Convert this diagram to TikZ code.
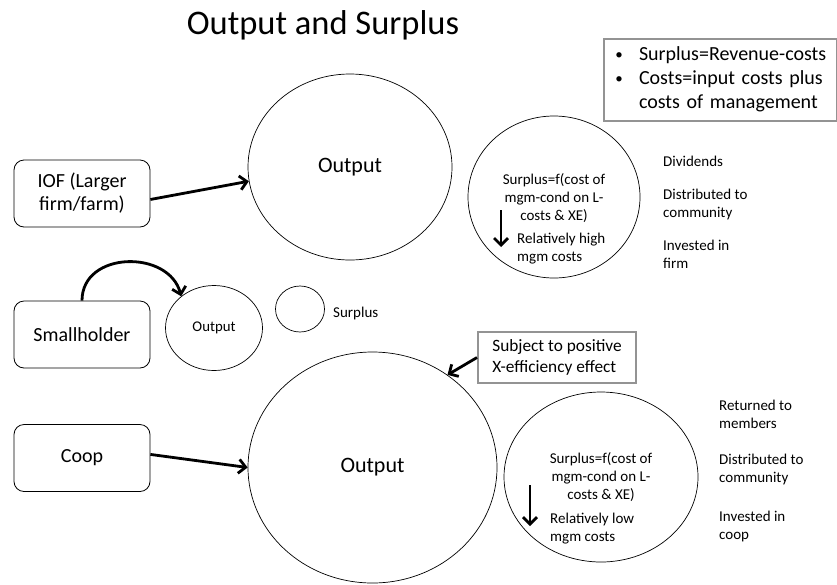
\documentclass[tikz,border=0pt]{standalone}
\usepackage{fontspec}
\setmainfont{Carlito}
\usetikzlibrary{shapes.geometric,arrows.meta,positioning}

\newcommand{\dotmark}{\makebox[10pt]{\fontsize{15}{15}\selectfont\raisebox{1pt}{\textbullet}}}

\tikzset{
  blk/.style={draw, rounded corners=10pt, line width=0.8pt, minimum width=136pt,
    minimum height=67pt, align=center, font=\fontsize{20}{23}\selectfont},
  ring/.style={draw, ellipse, line width=0.7pt, inner sep=0pt},
  note/.style={draw=gray!85, line width=2pt, inner sep=0pt},
  lbl/.style={inner sep=0pt, align=left, font=\fontsize{15}{18}\selectfont},
  flow/.style={line width=2.8pt, -{Straight Barb[length=7pt,width=14pt]}},
}

\begin{document}
\begin{tikzpicture}[x=1pt,y=-1pt]
\useasboundingbox (0,0) rectangle (837,584);

\node[anchor=base, font=\fontsize{34.5}{40}\selectfont] (title) at (323,34) {Output and Surplus};

\node[note, anchor=north west, text width=233pt, minimum height=82pt, align=left,
  font=\fontsize{20}{24}\selectfont] (defs) at (603,38)
  {\begin{tabular}{@{\hspace{10pt}}l@{\hspace{15pt}}l@{}}
   \dotmark & Surplus=Revenue-costs\\
   \dotmark & Costs=input costs plus\\
            & costs of management
   \end{tabular}};

% left-hand boxes
\node[blk] (iof) at (82,193.5) {IOF (Larger\\firm/farm)};
\node[blk] (small) at (82,334.5) {Smallholder};
\node[blk] (coop) at (82,458) {Coop};

% output and surplus rings
\node[ring, minimum width=204pt, minimum height=186pt, font=\fontsize{22}{26}\selectfont] (out1) at (350,167) {Output};
\node[ring, minimum width=172pt, minimum height=162pt] (sur1) at (554,197) {};
\node[ring, minimum width=97pt, minimum height=85pt, font=\fontsize{14.8}{17}\selectfont] (out2) at (214,328) {Output};
\node[ring, minimum width=49pt, minimum height=46pt] (sur2) at (300,309) {};
\node[lbl, anchor=west] (surlbl) at (333,313) {Surplus};
\node[ring, minimum width=249pt, minimum height=231pt, font=\fontsize{22}{26}\selectfont] (out3) at (372.5,467.5) {Output};
\node[ring, minimum width=194pt, minimum height=170pt] (sur3) at (601,477) {};

\node[lbl, align=center] (f1) at (554,198) {Surplus=f(cost of\\mgm-cond on L-\\costs \& XE)};
\node[lbl, anchor=west] (m1) at (517,249) {Relatively high\\mgm costs};
\node[lbl, align=center] (f3) at (601,477) {Surplus=f(cost of\\mgm-cond on L-\\costs \& XE)};
\node[lbl, anchor=west] (m3) at (550,529) {Relatively low\\mgm costs};

% where the surplus goes
\foreach \i/\ty/\txt in {1/161/{Dividends},2/204/{Distributed to\\community},3/254.5/{Invested in\\firm}}
  \node[lbl, anchor=west] (u\i) at (663,\ty) {\txt};
\foreach \i/\ty/\txt in {1/414/{Returned to\\members},2/469/{Distributed to\\community},3/526/{Invested in\\coop}}
  \node[lbl, anchor=west] (c\i) at (719,\ty) {\txt};

\node[note, minimum width=158pt, minimum height=51pt, align=left,
  font=\fontsize{17.3}{20.5}\selectfont] (subj) at (557,357.5) {Subject to positive\\X-efficiency effect};

\draw[flow] (iof.-5) -- (out1.188);
\draw[flow] (coop.3) -- (out3.west);
\draw[flow] (subj.west) -- (out3.51);
\draw[flow] (small.north) .. controls +(0,-50) and +(-12,-47) .. (out2.136);

\coordinate (h1) at (501,210);
\coordinate (h2) at (501,247);
\draw[flow] (h1) -- (h2);
\coordinate (l1) at (530,485);
\coordinate (l2) at (530,526);
\draw[flow] (l1) -- (l2);

\end{tikzpicture}
\end{document}
